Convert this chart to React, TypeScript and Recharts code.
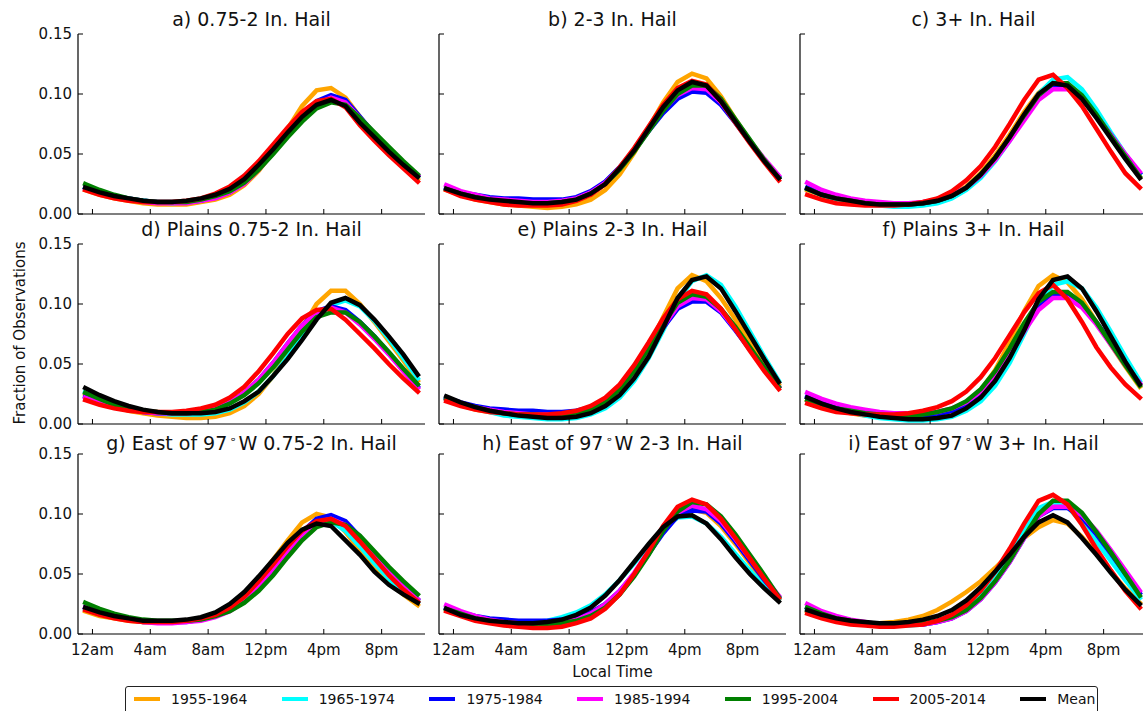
import React from 'react';
import { LineChart, Line, XAxis, YAxis } from 'recharts';

// hourly bins (local time), 24 per curve
const HOURS = [0, 1, 2, 3, 4, 5, 6, 7, 8, 9, 10, 11, 12, 13, 14, 15, 16, 17, 18, 19, 20, 21, 22, 23];
const X_TICKS = [0.5, 4.5, 8.5, 12.5, 16.5, 20.5];
const X_TICK_LABELS = ['12am', '4am', '8am', '12pm', '4pm', '8pm'];
const Y_TICKS = [0, 0.05, 0.1, 0.15];

const SERIES_NAMES = ['1955-1964', '1965-1974', '1975-1984', '1985-1994', '1995-2004', '2005-2014', 'Mean'];
const SERIES_COLORS = ['#ffa500', '#00ffff', '#0000ff', '#ff00ff', '#008000', '#ff0000', '#000000'];

// a) 0.75-2 In. Hail
const a1955 = [0.020, 0.016, 0.013, 0.011, 0.009, 0.008, 0.008, 0.008, 0.010, 0.012, 0.016, 0.024, 0.036, 0.052, 0.071, 0.090, 0.103, 0.105, 0.097, 0.081, 0.066, 0.052, 0.040, 0.029];
const a1965 = [0.022, 0.018, 0.015, 0.012, 0.011, 0.010, 0.009, 0.010, 0.011, 0.014, 0.019, 0.027, 0.039, 0.053, 0.068, 0.082, 0.093, 0.097, 0.093, 0.079, 0.066, 0.054, 0.042, 0.031];
const a1975 = [0.022, 0.018, 0.015, 0.013, 0.011, 0.010, 0.010, 0.010, 0.011, 0.014, 0.018, 0.026, 0.038, 0.052, 0.067, 0.082, 0.094, 0.099, 0.095, 0.081, 0.067, 0.054, 0.043, 0.032];
const a1985 = [0.021, 0.017, 0.014, 0.012, 0.010, 0.009, 0.009, 0.009, 0.011, 0.013, 0.018, 0.025, 0.037, 0.051, 0.066, 0.081, 0.092, 0.097, 0.093, 0.080, 0.067, 0.054, 0.043, 0.032];
const a1995 = [0.025, 0.020, 0.016, 0.013, 0.011, 0.010, 0.010, 0.010, 0.012, 0.015, 0.019, 0.026, 0.037, 0.050, 0.064, 0.077, 0.088, 0.093, 0.091, 0.080, 0.068, 0.056, 0.044, 0.033];
const a2005 = [0.020, 0.016, 0.013, 0.011, 0.010, 0.010, 0.010, 0.011, 0.013, 0.017, 0.023, 0.032, 0.044, 0.058, 0.072, 0.085, 0.094, 0.096, 0.089, 0.074, 0.061, 0.049, 0.038, 0.027];
const aMean = [0.022, 0.018, 0.015, 0.013, 0.011, 0.010, 0.010, 0.011, 0.013, 0.016, 0.021, 0.029, 0.041, 0.054, 0.068, 0.081, 0.091, 0.095, 0.090, 0.076, 0.064, 0.052, 0.041, 0.031];

// b) 2-3 In. Hail
const b1955 = [0.020, 0.016, 0.012, 0.010, 0.008, 0.007, 0.006, 0.005, 0.006, 0.008, 0.012, 0.020, 0.033, 0.051, 0.072, 0.093, 0.110, 0.117, 0.113, 0.098, 0.079, 0.061, 0.045, 0.030];
const b1965 = [0.021, 0.017, 0.014, 0.012, 0.010, 0.009, 0.009, 0.009, 0.010, 0.013, 0.018, 0.026, 0.039, 0.054, 0.071, 0.088, 0.101, 0.107, 0.105, 0.093, 0.077, 0.060, 0.045, 0.031];
const b1975 = [0.022, 0.018, 0.016, 0.014, 0.013, 0.013, 0.012, 0.012, 0.012, 0.014, 0.019, 0.027, 0.039, 0.053, 0.069, 0.084, 0.096, 0.102, 0.101, 0.091, 0.076, 0.060, 0.045, 0.031];
const b1985 = [0.024, 0.019, 0.016, 0.013, 0.012, 0.011, 0.010, 0.010, 0.011, 0.013, 0.018, 0.026, 0.038, 0.053, 0.070, 0.087, 0.099, 0.105, 0.104, 0.093, 0.077, 0.061, 0.046, 0.032];
const b1995 = [0.021, 0.017, 0.014, 0.012, 0.010, 0.009, 0.009, 0.009, 0.010, 0.012, 0.017, 0.025, 0.037, 0.052, 0.069, 0.086, 0.100, 0.107, 0.107, 0.096, 0.079, 0.062, 0.045, 0.030];
const b2005 = [0.020, 0.015, 0.012, 0.010, 0.008, 0.007, 0.007, 0.007, 0.008, 0.011, 0.016, 0.025, 0.039, 0.055, 0.073, 0.091, 0.105, 0.111, 0.108, 0.094, 0.076, 0.059, 0.043, 0.028];
const bMean = [0.021, 0.017, 0.014, 0.012, 0.011, 0.010, 0.009, 0.009, 0.010, 0.012, 0.017, 0.025, 0.038, 0.053, 0.071, 0.089, 0.103, 0.110, 0.107, 0.094, 0.077, 0.060, 0.044, 0.030];

// c) 3+ In. Hail
const c1955 = [0.020, 0.016, 0.012, 0.010, 0.009, 0.008, 0.008, 0.008, 0.009, 0.012, 0.016, 0.023, 0.034, 0.049, 0.066, 0.085, 0.101, 0.110, 0.108, 0.097, 0.081, 0.064, 0.047, 0.031];
const c1965 = [0.021, 0.016, 0.012, 0.010, 0.008, 0.007, 0.006, 0.006, 0.007, 0.009, 0.013, 0.020, 0.030, 0.044, 0.061, 0.081, 0.100, 0.112, 0.114, 0.104, 0.087, 0.068, 0.050, 0.034];
const c1975 = [0.022, 0.017, 0.014, 0.011, 0.010, 0.009, 0.008, 0.008, 0.009, 0.011, 0.015, 0.022, 0.032, 0.046, 0.062, 0.080, 0.097, 0.106, 0.106, 0.097, 0.082, 0.066, 0.049, 0.034];
const c1985 = [0.026, 0.020, 0.016, 0.013, 0.011, 0.010, 0.009, 0.009, 0.010, 0.012, 0.016, 0.022, 0.032, 0.045, 0.061, 0.078, 0.095, 0.104, 0.104, 0.096, 0.082, 0.066, 0.050, 0.035];
const c1995 = [0.021, 0.016, 0.013, 0.011, 0.009, 0.008, 0.008, 0.008, 0.009, 0.011, 0.015, 0.022, 0.033, 0.047, 0.064, 0.082, 0.099, 0.109, 0.109, 0.099, 0.083, 0.065, 0.048, 0.031];
const c2005 = [0.016, 0.012, 0.009, 0.008, 0.007, 0.007, 0.007, 0.008, 0.010, 0.013, 0.019, 0.028, 0.040, 0.056, 0.075, 0.095, 0.112, 0.116, 0.105, 0.090, 0.071, 0.052, 0.034, 0.022];
const cMean = [0.021, 0.016, 0.013, 0.011, 0.009, 0.008, 0.008, 0.008, 0.009, 0.011, 0.015, 0.022, 0.033, 0.047, 0.064, 0.083, 0.100, 0.109, 0.107, 0.096, 0.080, 0.063, 0.046, 0.030];

// d) Plains 0.75-2 In. Hail
const d1955 = [0.025, 0.020, 0.015, 0.011, 0.009, 0.007, 0.006, 0.005, 0.005, 0.006, 0.009, 0.015, 0.025, 0.040, 0.060, 0.080, 0.100, 0.111, 0.111, 0.100, 0.085, 0.069, 0.053, 0.036];
const d1965 = [0.027, 0.022, 0.017, 0.013, 0.011, 0.009, 0.008, 0.008, 0.008, 0.009, 0.012, 0.018, 0.027, 0.040, 0.056, 0.073, 0.089, 0.099, 0.103, 0.098, 0.086, 0.071, 0.055, 0.038];
const d1975 = [0.023, 0.019, 0.015, 0.012, 0.010, 0.009, 0.009, 0.009, 0.010, 0.013, 0.018, 0.026, 0.037, 0.051, 0.067, 0.082, 0.094, 0.098, 0.095, 0.085, 0.073, 0.059, 0.045, 0.031];
const d1985 = [0.022, 0.018, 0.014, 0.012, 0.010, 0.009, 0.009, 0.009, 0.010, 0.013, 0.018, 0.026, 0.037, 0.051, 0.067, 0.082, 0.093, 0.097, 0.093, 0.083, 0.071, 0.058, 0.044, 0.030];
const d1995 = [0.026, 0.021, 0.016, 0.013, 0.011, 0.010, 0.009, 0.009, 0.010, 0.012, 0.017, 0.024, 0.034, 0.047, 0.062, 0.077, 0.089, 0.093, 0.093, 0.085, 0.073, 0.060, 0.046, 0.033];
const d2005 = [0.020, 0.016, 0.013, 0.011, 0.010, 0.010, 0.010, 0.011, 0.013, 0.016, 0.022, 0.031, 0.044, 0.059, 0.075, 0.088, 0.095, 0.096, 0.087, 0.075, 0.063, 0.050, 0.038, 0.027];
const dMean = [0.030, 0.024, 0.019, 0.015, 0.012, 0.010, 0.009, 0.009, 0.009, 0.010, 0.013, 0.019, 0.027, 0.040, 0.054, 0.070, 0.087, 0.101, 0.105, 0.099, 0.087, 0.073, 0.058, 0.041];

// e) Plains 2-3 In. Hail
const e1955 = [0.021, 0.016, 0.012, 0.010, 0.008, 0.007, 0.006, 0.005, 0.005, 0.006, 0.009, 0.016, 0.027, 0.043, 0.064, 0.089, 0.113, 0.124, 0.119, 0.105, 0.087, 0.068, 0.050, 0.033];
const e1965 = [0.022, 0.017, 0.013, 0.010, 0.007, 0.006, 0.005, 0.004, 0.004, 0.005, 0.008, 0.013, 0.022, 0.036, 0.055, 0.078, 0.103, 0.119, 0.124, 0.116, 0.098, 0.077, 0.056, 0.036];
const e1975 = [0.022, 0.018, 0.015, 0.013, 0.012, 0.011, 0.011, 0.010, 0.010, 0.011, 0.014, 0.020, 0.030, 0.044, 0.061, 0.080, 0.096, 0.102, 0.102, 0.093, 0.078, 0.062, 0.046, 0.031];
const e1985 = [0.021, 0.017, 0.014, 0.012, 0.010, 0.009, 0.008, 0.008, 0.008, 0.009, 0.012, 0.018, 0.028, 0.043, 0.061, 0.081, 0.098, 0.105, 0.104, 0.094, 0.079, 0.063, 0.047, 0.031];
const e1995 = [0.021, 0.017, 0.014, 0.011, 0.009, 0.008, 0.008, 0.007, 0.008, 0.009, 0.012, 0.018, 0.029, 0.044, 0.063, 0.083, 0.101, 0.108, 0.106, 0.096, 0.081, 0.064, 0.047, 0.031];
const e2005 = [0.019, 0.015, 0.012, 0.010, 0.009, 0.008, 0.008, 0.008, 0.009, 0.011, 0.015, 0.022, 0.033, 0.049, 0.068, 0.088, 0.104, 0.111, 0.108, 0.096, 0.079, 0.061, 0.044, 0.029];
const eMean = [0.023, 0.018, 0.014, 0.011, 0.009, 0.007, 0.006, 0.005, 0.005, 0.006, 0.009, 0.015, 0.024, 0.038, 0.056, 0.080, 0.105, 0.120, 0.123, 0.113, 0.094, 0.074, 0.054, 0.035];

// f) Plains 3+ In. Hail
const f1955 = [0.020, 0.015, 0.012, 0.009, 0.007, 0.006, 0.005, 0.005, 0.005, 0.006, 0.009, 0.016, 0.028, 0.045, 0.068, 0.094, 0.115, 0.124, 0.118, 0.104, 0.085, 0.066, 0.048, 0.031];
const f1965 = [0.022, 0.017, 0.013, 0.010, 0.007, 0.005, 0.004, 0.003, 0.003, 0.004, 0.006, 0.011, 0.019, 0.032, 0.051, 0.075, 0.100, 0.116, 0.119, 0.113, 0.097, 0.077, 0.056, 0.036];
const f1975 = [0.023, 0.018, 0.014, 0.011, 0.009, 0.008, 0.007, 0.007, 0.007, 0.008, 0.011, 0.016, 0.025, 0.039, 0.057, 0.078, 0.097, 0.107, 0.108, 0.100, 0.085, 0.068, 0.050, 0.034];
const f1985 = [0.026, 0.021, 0.017, 0.014, 0.012, 0.010, 0.009, 0.009, 0.009, 0.010, 0.013, 0.018, 0.027, 0.040, 0.057, 0.077, 0.095, 0.105, 0.105, 0.097, 0.083, 0.066, 0.049, 0.034];
const f1995 = [0.020, 0.016, 0.013, 0.011, 0.009, 0.008, 0.007, 0.007, 0.008, 0.010, 0.013, 0.019, 0.029, 0.044, 0.063, 0.084, 0.102, 0.110, 0.110, 0.101, 0.085, 0.067, 0.049, 0.032];
const f2005 = [0.017, 0.013, 0.010, 0.009, 0.008, 0.008, 0.008, 0.009, 0.011, 0.014, 0.019, 0.027, 0.039, 0.055, 0.074, 0.093, 0.109, 0.116, 0.104, 0.085, 0.064, 0.047, 0.033, 0.022];
const fMean = [0.022, 0.017, 0.013, 0.010, 0.008, 0.006, 0.005, 0.004, 0.004, 0.005, 0.007, 0.013, 0.022, 0.036, 0.055, 0.078, 0.104, 0.120, 0.123, 0.113, 0.094, 0.073, 0.052, 0.033];

// g) East of 97°W 0.75-2 In. Hail
const g1955 = [0.019, 0.015, 0.013, 0.011, 0.010, 0.010, 0.010, 0.011, 0.013, 0.017, 0.023, 0.033, 0.046, 0.062, 0.078, 0.093, 0.100, 0.097, 0.085, 0.070, 0.056, 0.044, 0.033, 0.024];
const g1965 = [0.021, 0.017, 0.014, 0.012, 0.011, 0.010, 0.010, 0.011, 0.013, 0.016, 0.022, 0.031, 0.043, 0.057, 0.072, 0.085, 0.093, 0.094, 0.086, 0.073, 0.059, 0.046, 0.035, 0.027];
const g1975 = [0.022, 0.018, 0.014, 0.012, 0.010, 0.010, 0.010, 0.010, 0.012, 0.015, 0.020, 0.028, 0.040, 0.054, 0.070, 0.085, 0.096, 0.099, 0.094, 0.081, 0.066, 0.051, 0.039, 0.029];
const g1985 = [0.022, 0.018, 0.014, 0.012, 0.010, 0.009, 0.009, 0.010, 0.011, 0.014, 0.019, 0.027, 0.039, 0.053, 0.069, 0.083, 0.093, 0.096, 0.091, 0.079, 0.065, 0.051, 0.039, 0.029];
const g1995 = [0.026, 0.021, 0.017, 0.014, 0.012, 0.011, 0.011, 0.011, 0.012, 0.015, 0.019, 0.026, 0.036, 0.049, 0.064, 0.078, 0.089, 0.093, 0.091, 0.082, 0.069, 0.056, 0.044, 0.033];
const g2005 = [0.020, 0.016, 0.013, 0.011, 0.010, 0.010, 0.010, 0.011, 0.013, 0.016, 0.022, 0.031, 0.044, 0.058, 0.073, 0.086, 0.094, 0.096, 0.090, 0.077, 0.063, 0.049, 0.037, 0.027];
const gMean = [0.022, 0.018, 0.015, 0.013, 0.011, 0.011, 0.011, 0.012, 0.014, 0.018, 0.025, 0.035, 0.048, 0.062, 0.076, 0.087, 0.092, 0.090, 0.078, 0.066, 0.052, 0.041, 0.033, 0.026];

// h) East of 97°W 2-3 In. Hail
const h1955 = [0.020, 0.016, 0.013, 0.011, 0.009, 0.008, 0.008, 0.008, 0.009, 0.012, 0.016, 0.024, 0.035, 0.050, 0.067, 0.085, 0.099, 0.104, 0.101, 0.090, 0.075, 0.059, 0.043, 0.029];
const h1965 = [0.021, 0.017, 0.014, 0.012, 0.011, 0.010, 0.010, 0.011, 0.014, 0.018, 0.024, 0.033, 0.045, 0.059, 0.074, 0.088, 0.097, 0.098, 0.092, 0.081, 0.067, 0.053, 0.040, 0.029];
const h1975 = [0.022, 0.018, 0.015, 0.013, 0.012, 0.011, 0.011, 0.011, 0.012, 0.014, 0.018, 0.025, 0.036, 0.050, 0.067, 0.084, 0.098, 0.103, 0.102, 0.092, 0.077, 0.061, 0.045, 0.031];
const h1985 = [0.024, 0.019, 0.015, 0.012, 0.010, 0.009, 0.009, 0.009, 0.010, 0.012, 0.017, 0.025, 0.036, 0.051, 0.069, 0.087, 0.101, 0.107, 0.104, 0.094, 0.079, 0.063, 0.047, 0.032];
const h1995 = [0.021, 0.017, 0.013, 0.011, 0.009, 0.008, 0.008, 0.008, 0.009, 0.011, 0.015, 0.022, 0.033, 0.048, 0.066, 0.086, 0.102, 0.110, 0.108, 0.098, 0.083, 0.066, 0.049, 0.031];
const h2005 = [0.019, 0.015, 0.011, 0.009, 0.007, 0.006, 0.005, 0.005, 0.006, 0.009, 0.013, 0.021, 0.033, 0.050, 0.069, 0.090, 0.106, 0.112, 0.108, 0.096, 0.080, 0.063, 0.046, 0.030];
const hMean = [0.021, 0.016, 0.013, 0.011, 0.010, 0.009, 0.009, 0.010, 0.012, 0.016, 0.022, 0.032, 0.045, 0.060, 0.075, 0.089, 0.098, 0.099, 0.092, 0.079, 0.064, 0.050, 0.038, 0.027];

// i) East of 97°W 3+ In. Hail
const i1955 = [0.019, 0.015, 0.012, 0.010, 0.009, 0.009, 0.010, 0.012, 0.015, 0.020, 0.027, 0.035, 0.044, 0.055, 0.067, 0.080, 0.089, 0.095, 0.092, 0.081, 0.067, 0.052, 0.038, 0.026];
const i1965 = [0.021, 0.016, 0.012, 0.010, 0.008, 0.007, 0.007, 0.007, 0.008, 0.010, 0.014, 0.021, 0.032, 0.047, 0.066, 0.088, 0.105, 0.110, 0.106, 0.093, 0.077, 0.061, 0.045, 0.030];
const i1975 = [0.022, 0.017, 0.013, 0.011, 0.009, 0.008, 0.008, 0.008, 0.008, 0.010, 0.013, 0.019, 0.029, 0.043, 0.060, 0.080, 0.098, 0.105, 0.105, 0.097, 0.083, 0.067, 0.050, 0.034];
const i1985 = [0.025, 0.019, 0.015, 0.012, 0.010, 0.008, 0.008, 0.008, 0.008, 0.010, 0.013, 0.019, 0.029, 0.043, 0.060, 0.080, 0.098, 0.106, 0.106, 0.099, 0.086, 0.070, 0.053, 0.036];
const i1995 = [0.022, 0.017, 0.013, 0.011, 0.009, 0.008, 0.008, 0.008, 0.009, 0.011, 0.014, 0.020, 0.030, 0.044, 0.061, 0.081, 0.100, 0.111, 0.111, 0.101, 0.085, 0.068, 0.050, 0.032];
const i2005 = [0.017, 0.013, 0.010, 0.008, 0.007, 0.006, 0.006, 0.007, 0.008, 0.011, 0.016, 0.024, 0.036, 0.052, 0.071, 0.092, 0.111, 0.116, 0.108, 0.091, 0.071, 0.053, 0.036, 0.022];
const iMean = [0.020, 0.016, 0.013, 0.011, 0.010, 0.009, 0.009, 0.010, 0.012, 0.015, 0.020, 0.028, 0.039, 0.052, 0.066, 0.081, 0.093, 0.099, 0.093, 0.080, 0.066, 0.051, 0.037, 0.025];

const PANELS = [
  { title: 'a) 0.75-2 In. Hail', series: [a1955, a1965, a1975, a1985, a1995, a2005, aMean] },
  { title: 'b) 2-3 In. Hail', series: [b1955, b1965, b1975, b1985, b1995, b2005, bMean] },
  { title: 'c) 3+ In. Hail', series: [c1955, c1965, c1975, c1985, c1995, c2005, cMean] },
  { title: 'd) Plains 0.75-2 In. Hail', series: [d1955, d1965, d1975, d1985, d1995, d2005, dMean] },
  { title: 'e) Plains 2-3 In. Hail', series: [e1955, e1965, e1975, e1985, e1995, e2005, eMean] },
  { title: 'f) Plains 3+ In. Hail', series: [f1955, f1965, f1975, f1985, f1995, f2005, fMean] },
  { title: 'g) East of 97|W 0.75-2 In. Hail', series: [g1955, g1965, g1975, g1985, g1995, g2005, gMean] },
  { title: 'h) East of 97|W 2-3 In. Hail', series: [h1955, h1965, h1975, h1985, h1995, h2005, hMean] },
  { title: 'i) East of 97|W 3+ In. Hail', series: [i1955, i1965, i1975, i1985, i1995, i2005, iMean] },
];

const COL_LEFT = [78, 439, 800];
const ROW_TOP = [34, 244, 454];
const PW = 347;
const PH = 180;
const ML = 50;
const MT = 14;
const MR = 6;
const MB = 28;
const TICK = 5;
const FONT = '"DejaVu Sans", sans-serif';

const LeftTick = (props: any) => {
  const { x, y, payload, showLabel } = props;
  return (
    <g>
      <line x1={x} x2={x + TICK} y1={y} y2={y} stroke="#000" strokeWidth={1} />
      {showLabel && (
        <text x={x - 6} y={y} dy="0.36em" textAnchor="end" fontSize={15} fontFamily={FONT} fill="#111">
          {payload.value.toFixed(2)}
        </text>
      )}
    </g>
  );
};

const RightTick = (props: any) => {
  const { x, y } = props;
  return <line x1={x} x2={x - TICK} y1={y} y2={y} stroke="#000" strokeWidth={1} />;
};

const BottomTick = (props: any) => {
  const { x, y, payload, showLabel, index } = props;
  return (
    <g>
      <line x1={x} x2={x} y1={y} y2={y - TICK} stroke="#000" strokeWidth={1} />
      {showLabel && (
        <text x={x} y={y + 21} textAnchor="middle" fontSize={15} fontFamily={FONT} fill="#111">
          {X_TICK_LABELS[index] ?? payload.value}
        </text>
      )}
    </g>
  );
};

const TopTick = (props: any) => {
  const { x, y } = props;
  return <line x1={x} x2={x} y1={y} y2={y + TICK} stroke="#000" strokeWidth={1} />;
};

const Title = ({ text }: { text: string }) => {
  const parts = text.split('|');
  if (parts.length === 1) return <>{text}</>;
  return (
    <>
      {parts[0]}
      <span style={{ fontSize: '0.6em', verticalAlign: '0.6em', margin: '0 2px' }}>{'\u2218'}</span>
      {parts[1]}
    </>
  );
};

const Panel = ({ idx }: { idx: number }) => {
  const panel = PANELS[idx];
  const row = Math.floor(idx / 3);
  const col = idx % 3;
  const data = HOURS.map((h, i) => {
    const d: any = { hour: h };
    panel.series.forEach((s, k) => {
      d['s' + k] = s[i];
    });
    return d;
  });
  const showY = col === 0;
  const showX = row === 2;
  const left = COL_LEFT[col];
  const top = ROW_TOP[row];
  return (
    <>
      <div
        style={{
          position: 'absolute',
          left,
          top: top - 27,
          width: PW,
          textAlign: 'center',
          fontSize: 19,
          lineHeight: '24px',
          color: '#111',
          whiteSpace: 'nowrap',
        }}
      >
        <Title text={panel.title} />
      </div>
      <div style={{ position: 'absolute', left: left - ML, top: top - MT }}>
        <LineChart
          width={PW + ML + MR}
          height={PH + MT + MB}
          data={data}
          margin={{ top: MT, right: MR, bottom: 0, left: 0 }}
        >
          <XAxis
            xAxisId="b"
            dataKey="hour"
            type="number"
            domain={[-0.5, 23.5]}
            ticks={X_TICKS}
            interval={0}
            allowDataOverflow
            height={MB}
            tickSize={0}
            tickMargin={0}
            tickLine={false}
            axisLine={{ stroke: '#000', strokeWidth: 1.2 }}
            tick={(p: any) => <BottomTick {...p} showLabel={showX} />}
          />
          <XAxis
            xAxisId="t"
            orientation="top"
            dataKey="hour"
            type="number"
            domain={[-0.5, 23.5]}
            ticks={X_TICKS}
            interval={0}
            allowDataOverflow
            height={0}
            tickSize={0}
            tickMargin={0}
            tickLine={false}
            axisLine={{ stroke: '#000', strokeWidth: 1.2 }}
            tick={(p: any) => <TopTick {...p} />}
          />
          <YAxis
            yAxisId="l"
            type="number"
            domain={[0, 0.15]}
            ticks={Y_TICKS}
            interval={0}
            allowDataOverflow
            width={ML}
            tickSize={0}
            tickMargin={0}
            tickLine={false}
            axisLine={{ stroke: '#000', strokeWidth: 1.2 }}
            tick={(p: any) => <LeftTick {...p} showLabel={showY} />}
          />
          <YAxis
            yAxisId="r"
            orientation="right"
            type="number"
            domain={[0, 0.15]}
            ticks={Y_TICKS}
            interval={0}
            allowDataOverflow
            width={0}
            tickSize={0}
            tickMargin={0}
            tickLine={false}
            axisLine={{ stroke: '#000', strokeWidth: 1.2 }}
            tick={(p: any) => <RightTick {...p} />}
          />
          {SERIES_NAMES.map((name, k) => (
            <Line
              key={name}
              xAxisId="b"
              yAxisId="l"
              type="linear"
              dataKey={'s' + k}
              name={name}
              stroke={SERIES_COLORS[k]}
              strokeWidth={4.5}
              strokeLinecap="square"
              dot={false}
              activeDot={false}
              isAnimationActive={false}
            />
          ))}
        </LineChart>
      </div>
    </>
  );
};

const Legend = () => (
  <div
    style={{
      position: 'absolute',
      left: 125,
      top: 686,
      width: 973,
      height: 34,
      border: '1px solid #222',
      borderRadius: 3,
      boxSizing: 'border-box',
    }}
  >
    {SERIES_NAMES.map((name, k) => (
      <div
        key={name}
        style={{ position: 'absolute', left: 8 + k * 147.7, top: 3, display: 'flex', alignItems: 'center', height: 18 }}
      >
        <div style={{ width: 26, height: 4, background: SERIES_COLORS[k] }} />
        <span style={{ marginLeft: 11, fontSize: 14, color: '#111', whiteSpace: 'nowrap' }}>{name}</span>
      </div>
    ))}
  </div>
);

export default function App() {
  return (
    <div
      style={{
        position: 'absolute',
        left: 0,
        top: 0,
        width: 1143,
        height: 711,
        overflow: 'hidden',
        background: '#fff',
        fontFamily: FONT,
      }}
    >
      {PANELS.map((_, idx) => (
        <Panel key={idx} idx={idx} />
      ))}
      <div style={{ position: 'absolute', left: 20, top: 333, width: 0, height: 0 }}>
        <div
          style={{
            position: 'absolute',
            left: 0,
            top: 0,
            transform: 'translate(-50%, -50%) rotate(-90deg)',
            fontSize: 15,
            whiteSpace: 'nowrap',
            color: '#111',
          }}
        >
          Fraction of Observations
        </div>
      </div>
      <div
        style={{
          position: 'absolute',
          left: 439,
          top: 663,
          width: PW,
          textAlign: 'center',
          fontSize: 15,
          color: '#111',
        }}
      >
        Local Time
      </div>
      <Legend />
    </div>
  );
}
